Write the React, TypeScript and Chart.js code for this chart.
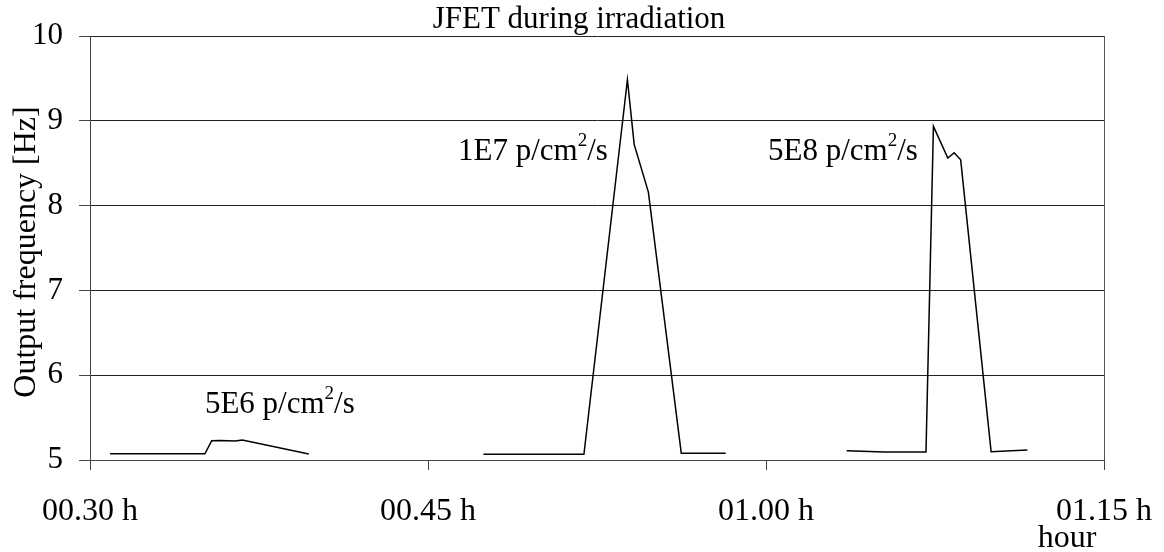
import React, { useEffect, useRef } from "react";
import { Chart, registerables } from "chart.js";

Chart.register(...registerables);

// minutes after midnight, output frequency [Hz]
const seg1X = [30.89, 33.05, 35.1, 35.4, 35.77, 36.44, 36.76, 39.71];
const seg1Y = [5.074, 5.074, 5.074, 5.227, 5.23, 5.224, 5.235, 5.07];
const seg2X = [47.46, 49.82, 51.92, 53.85, 54.15, 54.78, 56.24, 58.21];
const seg2Y = [5.067, 5.067, 5.067, 9.484, 8.722, 8.16, 5.079, 5.079];
const seg3X = [63.58, 65.25, 67.1, 67.43, 68.07, 68.35, 68.64, 69.99, 71.6];
const seg3Y = [5.11, 5.094, 5.094, 8.934, 8.56, 8.624, 8.54, 5.098, 5.118];

const xTickValues = [30, 45, 60, 75];
const xTickLabels = ["00.30 h", "00.45 h", "01.00 h", "01.15 h"];
const yTicks = [5, 6, 7, 8, 9, 10];

const labels = [
  { text: "5E6 p/cm", sup: "2", tail: "/s", x: 35.1, y: 5.554 },
  { text: "1E7 p/cm", sup: "2", tail: "/s", x: 46.33, y: 8.534 },
  { text: "5E8 p/cm", sup: "2", tail: "/s", x: 60.09, y: 8.534 },
];

const title = "JFET during irradiation";
const yTitle = "Output frequency [Hz]";
const xTitle = "hour";

const FONT = "'Liberation Serif', 'Times New Roman', serif";

function pts(xs: number[], ys: number[]) {
  return xs.map((x, i) => ({ x, y: ys[i] }));
}

const textPlugin = {
  id: "texts",
  afterDraw(chart: any) {
    const ctx = chart.ctx;
    const xs = chart.scales.x;
    const ys = chart.scales.y;
    const area = chart.chartArea;
    ctx.save();
    ctx.fillStyle = "#000";
    // title
    ctx.font = `31px ${FONT}`;
    ctx.textAlign = "center";
    ctx.textBaseline = "alphabetic";
    ctx.fillText(title, 579, 28);
    // y title
    ctx.save();
    ctx.font = `32px ${FONT}`;
    ctx.translate(35, 252);
    ctx.rotate(-Math.PI / 2);
    ctx.fillText(yTitle, 0, 0);
    ctx.restore();
    // x title
    ctx.font = `32px ${FONT}`;
    ctx.fillText(xTitle, 1067, 547);
    // annotations
    ctx.textAlign = "left";
    for (const l of labels) {
      let px = xs.getPixelForValue(l.x);
      const py = ys.getPixelForValue(l.y);
      ctx.font = `31px ${FONT}`;
      ctx.fillText(l.text, px, py);
      px += ctx.measureText(l.text).width;
      ctx.font = `19px ${FONT}`;
      ctx.fillText(l.sup, px, py - 14);
      px += ctx.measureText(l.sup).width;
      ctx.font = `31px ${FONT}`;
      ctx.fillText(l.tail, px, py);
    }
    // right border
    ctx.strokeStyle = "#555";
    ctx.lineWidth = 1;
    ctx.beginPath();
    ctx.moveTo(Math.round(area.right) + 0.5, area.top);
    ctx.lineTo(Math.round(area.right) + 0.5, area.bottom);
    ctx.stroke();
    ctx.restore();
  },
};

export default function App() {
  const ref = useRef<HTMLCanvasElement | null>(null);
  useEffect(() => {
    document.body.style.margin = "0";
    const ds = (data: any) => ({
      data,
      borderColor: "#000",
      borderWidth: 1.5,
      pointRadius: 0,
      showLine: true,
      fill: false,
      tension: 0,
    });
    const chart = new Chart(ref.current!, {
      type: "scatter",
      data: {
        datasets: [ds(pts(seg1X, seg1Y)), ds(pts(seg2X, seg2Y)), ds(pts(seg3X, seg3Y))],
      },
      plugins: [textPlugin],
      options: {
        animation: false,
        responsive: false,
        layout: { padding: { top: 36, right: 60, left: 0, bottom: 0 } },
        plugins: { legend: { display: false }, tooltip: { enabled: false } },
        scales: {
          x: {
            type: "linear",
            min: 30,
            max: 75,
            afterBuildTicks: (s: any) => {
              s.ticks = xTickValues.map((v) => ({ value: v }));
            },
            afterFit: (s: any) => {
              s.height = 92;
              s.paddingLeft = 0;
              s.paddingRight = 0;
            },
            border: { display: true, color: "#444", width: 1 },
            grid: {
              drawOnChartArea: false,
              drawTicks: true,
              tickLength: 10,
              tickColor: "#444",
            },
            ticks: {
              color: "#000",
              font: { family: FONT, size: 32 },
              padding: 22,
              maxRotation: 0,
              autoSkip: false,
              callback: (v: any) => {
                const i = xTickValues.indexOf(Number(v));
                return i >= 0 ? xTickLabels[i] : "";
              },
            },
          },
          y: {
            min: 5,
            max: 10,
            afterBuildTicks: (s: any) => {
              s.ticks = yTicks.map((v) => ({ value: v }));
            },
            afterFit: (s: any) => {
              s.width = 90;
              s.paddingTop = 0;
              s.paddingBottom = 0;
            },
            border: { display: true, color: "#444", width: 1 },
            grid: {
              color: "#222",
              lineWidth: 1,
              tickLength: 11,
              tickColor: "#444",
            },
            ticks: {
              color: "#000",
              font: { family: FONT, size: 31 },
              padding: 16,
              callback: (v: any) => String(v),
            },
          },
        },
      },
    });
    return () => chart.destroy();
  }, []);
  return (
    <div style={{ position: "absolute", left: 0, top: 0, width: 1164, height: 552, background: "#fff" }}>
      <canvas ref={ref} width={1164} height={552} style={{ width: 1164, height: 552 }} />
    </div>
  );
}
